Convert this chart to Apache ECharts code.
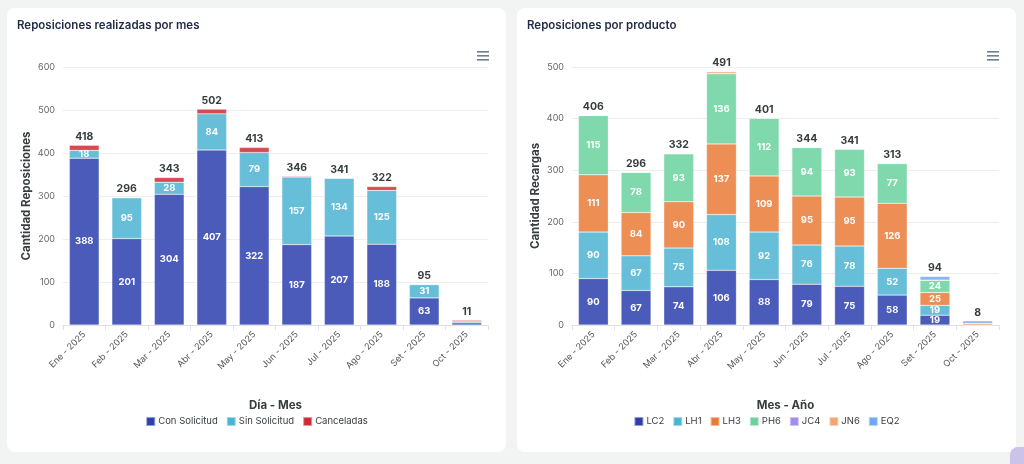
<!DOCTYPE html>
<html><head><meta charset="utf-8">
<script src="https://cdn.jsdelivr.net/npm/echarts@6/dist/echarts.min.js"></script>
<style>
html,body{margin:0;padding:0;background:#f2f4f4;width:1024px;height:464px;overflow:hidden;font-family:Inter,"Noto Sans",sans-serif;}
.card{position:absolute;background:#fff;border-radius:8px;}
#c1{left:7px;top:8px;width:499px;height:444px;}
#c2{left:517px;top:8px;width:499px;height:444px;}
#fab{position:absolute;left:1010px;top:447px;width:30px;height:30px;border-radius:8px;background:#cbc3ea;}
</style></head>
<body>
<div class="card" id="c1"></div>
<div class="card" id="c2"></div>
<div id="fab"></div>
<script>
const months = ["Ene - 2025","Feb - 2025","Mar - 2025","Abr - 2025","May - 2025","Jun - 2025","Jul - 2025","Ago - 2025","Set - 2025","Oct - 2025"];
// Left chart
const conSolicitud = [388,201,304,407,322,187,207,188,63,5];
const sinSolicitud = [18,95,28,84,79,157,134,125,31,3];
const canceladas   = [12,0,11,11,12,2,0,9,1,3];
const totalsLeft   = [418,296,343,502,413,346,341,322,95,11];
// Right chart
const LC2 = [90,67,74,106,88,79,75,58,19,0];
const LH1 = [90,67,75,108,92,76,78,52,19,0];
const LH3 = [111,84,90,137,109,95,95,126,25,3];
const PH6 = [115,78,93,136,112,94,93,77,24,0];
const JC4 = [0,0,0,0,0,0,0,0,0,0];
const JN6 = [0,0,0,4,0,0,0,0,0,0];
const EQ2 = [0,0,0,0,0,0,0,0,7,5];
const totalsRight = [406,296,332,491,401,344,341,313,94,8];
const yTicksLeft = [0,100,200,300,400,500,600];
const yTicksRight = [0,100,200,300,400,500];

const FONT = 'Inter';
function menuIcon(x){
  return {type:'group', left:x, top:43, children:[0,4,8].map(y=>({type:'rect',shape:{x:0,y:y,width:12,height:1.6},style:{fill:'#6e7f8f'}}))};
}
function mkSeries(name, data, fill){
  return {name:name, type:'bar', stack:'s', data:data, barWidth:'70%',
    itemStyle:{color:fill, borderColor:'rgba(255,255,255,0.5)', borderWidth:0.5},
    label:{show:true, position:'inside', color:'#fff', fontFamily:FONT, fontSize:9.5, fontWeight:'bold',
      formatter:p=> p.value>=15 ? String(p.value) : ''}};
}
function totalSeries(totals){
  return {name:'__total', type:'bar', stack:'s', data:totals.map(()=>0), barWidth:'70%',
    itemStyle:{color:'transparent'}, silent:true,
    label:{show:true, position:'top', distance:3, color:'#373d3f', fontFamily:FONT, fontSize:10.5, fontWeight:'bold',
      formatter:p=> String(totals[p.dataIndex])}};
}
function baseOption(title, titleSize, yName, xName, ticks, legendItems){
  const max = ticks[ticks.length-1];
  return {
    animation:false,
    textStyle:{fontFamily:FONT},
    title:{text:title, left:10, top:12, padding:0, textStyle:{fontFamily:FONT, fontSize:titleSize, fontWeight:600, color:'#1e2a48'}},
    graphic:[menuIcon(470)],
    legend:{data:legendItems, bottom:20, left:'center', itemWidth:9, itemHeight:9, itemGap:8, icon:'rect',
      textStyle:{fontFamily:FONT, fontSize:9.5, color:'#373d3f', padding:[0,0,0,-2]}},
    grid:{left:56, right:18, top:59, bottom:127},
    xAxis:{type:'category', data:months, name:xName, nameLocation:'middle', nameGap:75, nameMoveOverlap:false,
      nameTextStyle:{fontFamily:FONT, fontSize:11.5, fontWeight:'bold', color:'#373d3f'},
      axisLine:{lineStyle:{color:'#e0e0e0'}}, axisTick:{show:true, alignWithLabel:false, length:5, lineStyle:{color:'#e0e0e0'}},
      axisLabel:{rotate:45, fontSize:9, color:'#555', fontFamily:FONT, margin:8, interval:0}},
    yAxis:{type:'value', min:0, max:max, interval:100, name:yName, nameLocation:'middle', nameGap:30, nameMoveOverlap:false,
      nameTextStyle:{fontFamily:FONT, fontSize:11.5, fontWeight:'bold', color:'#373d3f'},
      axisLabel:{fontSize:9, color:'#666', fontFamily:FONT, margin:8},
      splitLine:{lineStyle:{color:'#eceef0'}}, axisLine:{show:false}, axisTick:{show:false}},
    series:[]
  };
}

const ch1 = echarts.init(document.getElementById('c1'), null, {renderer:'canvas'});
const o1 = baseOption('Reposiciones realizadas por mes', 11.5, 'Cantidad Reposiciones','Día - Mes', yTicksLeft, [
  {name:'Con Solicitud', itemStyle:{color:'#2b3fae'}},
  {name:'Sin Solicitud', itemStyle:{color:'#4bb3d3'}},
  {name:'Canceladas', itemStyle:{color:'#cf2a36'}}]);
o1.series = [
  mkSeries('Con Solicitud', conSolicitud, '#4a5bba'),
  mkSeries('Sin Solicitud', sinSolicitud, '#66bed9'),
  Object.assign(mkSeries('Canceladas', canceladas, '#d64a54'), {label:{show:false}}),
  totalSeries(totalsLeft)];
ch1.setOption(o1);

const ch2 = echarts.init(document.getElementById('c2'), null, {renderer:'canvas'});
const o2 = baseOption('Reposiciones por producto', 11.5, 'Cantidad Recargas','Mes - Año', yTicksRight, [
  {name:'LC2', itemStyle:{color:'#2b3fae'}},
  {name:'LH1', itemStyle:{color:'#4bb3d3'}},
  {name:'LH3', itemStyle:{color:'#eb7a37'}},
  {name:'PH6', itemStyle:{color:'#6dd19f'}},
  {name:'JC4', itemStyle:{color:'#a38bf0'}},
  {name:'JN6', itemStyle:{color:'#f4a46f'}},
  {name:'EQ2', itemStyle:{color:'#6ea8f7'}}]);
o2.grid = {left:55, right:17, top:59, bottom:127};
o2.series = [
  mkSeries('LC2', LC2, '#4a5bba'),
  mkSeries('LH1', LH1, '#66bed9'),
  mkSeries('LH3', LH3, '#ed8e55'),
  mkSeries('PH6', PH6, '#80d8ad'),
  mkSeries('JC4', JC4, '#b09df2'),
  mkSeries('JN6', JN6, '#f6b385'),
  mkSeries('EQ2', EQ2, '#84b5f8'),
  totalSeries(totalsRight)];
ch2.setOption(o2);
</script>
</body></html>
